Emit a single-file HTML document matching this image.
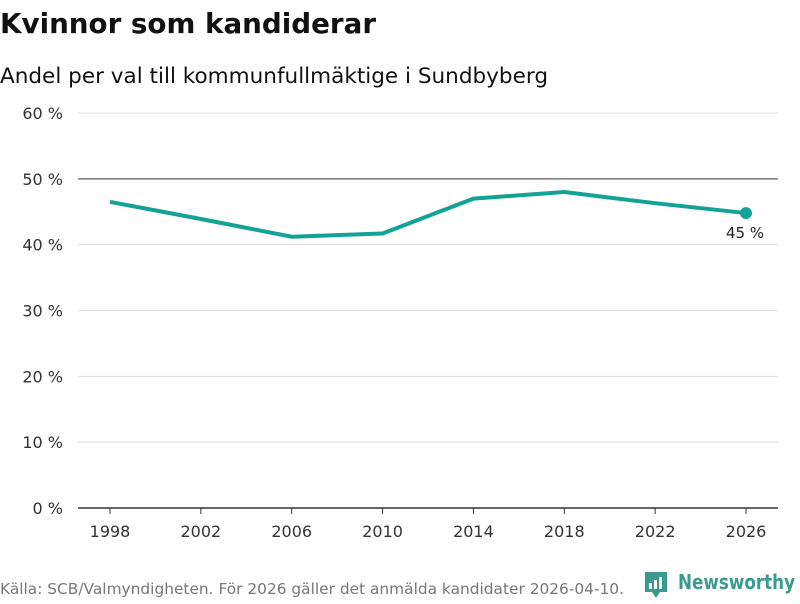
<!DOCTYPE html>
<html><head><meta charset="utf-8"><style>
body{margin:0;width:800px;height:600px;background:#fff;font-family:"DejaVu Sans","Liberation Sans",sans-serif;overflow:hidden}
</style></head><body>
<svg width="800" height="600" xmlns="http://www.w3.org/2000/svg" font-family="DejaVu Sans, Liberation Sans, sans-serif">
<text x="0" y="33" font-size="28" font-weight="bold" fill="#111" textLength="376" lengthAdjust="spacingAndGlyphs">Kvinnor som kandiderar</text>
<text x="0" y="83" font-size="21" fill="#111" textLength="548" lengthAdjust="spacingAndGlyphs">Andel per val till kommunfullmäktige i Sundbyberg</text>
<g id="grid"></g><g id="xaxis"></g><g id="series"></g>
<text x="0" y="594" font-size="15" fill="#777" textLength="624" lengthAdjust="spacingAndGlyphs">Källa: SCB/Valmyndigheten. För 2026 gäller det anmälda kandidater 2026-04-10.</text>
<g>
<path d="M645 572 h22 v20 h-7 l-4 6 l-4 -6 h-7z" fill="#3a9a8c"/>
<rect x="649" y="583" width="3" height="6" fill="#fff"/><rect x="654" y="580" width="3" height="9" fill="#fff"/><rect x="659" y="577" width="3" height="12" fill="#fff"/>
<text x="678" y="589" font-size="20" font-weight="bold" fill="#3a9a8c" textLength="117" lengthAdjust="spacingAndGlyphs">Newsworthy</text>
</g>
</svg>
<script>
const years=[1998,2002,2006,2010,2014,2018,2022,2026];
const values=[46.5,43.9,41.2,41.7,47.0,48.0,46.3,44.8];
const yTicks=[0,10,20,30,40,50,60];
const ns="http://www.w3.org/2000/svg";
const xs=y=>110+(y-1998)*(636/28);
const ys=v=>508-v*(395/60);
function mk(t,a,p){const e=document.createElementNS(ns,t);for(const k in a)e.setAttribute(k,a[k]);p.appendChild(e);return e;}
const grid=document.getElementById('grid');
yTicks.forEach(t=>{
 const l=mk('line',{x1:78,x2:778,y1:ys(t),y2:ys(t),stroke:t===50?'#777':(t===0?'#333':'#ddd'),'stroke-width':t===0?1.5:(t===50?1.5:1)},grid);
 
 
 const tx=mk('text',{x:63,y:ys(t)+6,'text-anchor':'end','font-size':16,fill:'#333'},grid);
 tx.textContent=t+' %';
 
 
});
const xa=document.getElementById('xaxis');
years.forEach(y=>{
 const l=mk('line',{x1:xs(y),x2:xs(y),y1:508,y2:514,stroke:'#333'},xa);
 
 
 const t=mk('text',{x:xs(y),y:537,'text-anchor':'middle','font-size':16,fill:'#333'},xa);
 t.textContent=y;
 
 
});
const s=document.getElementById('series');
const pl=mk('polyline',{points:years.map((y,i)=>xs(y)+','+ys(values[i])).join(' '),fill:'none',stroke:'#13a296','stroke-width':4,'stroke-linejoin':'round'},s);


const n=years.length-1;
const c=mk('circle',{cx:xs(years[n]),cy:ys(values[n]),r:6,fill:'#13a296'},s);


const lb=mk('text',{x:xs(years[n])-1,y:ys(values[n])+25,'text-anchor':'middle','font-size':15,fill:'#222'},s);
lb.textContent=Math.round(values[n])+' %';


</script>
</body></html>
